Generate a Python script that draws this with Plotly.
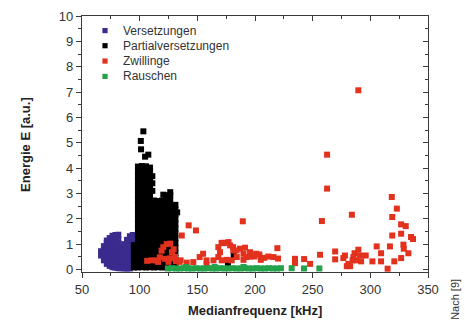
import plotly.graph_objects as go

# ---- series data: Medianfrequenz [kHz] vs. Energie E [a.u.] ----
versetzungen_x = (
    [66.5] * 2 + [69] * 5 + [71.5] * 8 + [74] * 9 + [76.5] * 10 + [79] * 10
    + [81.5] * 10 + [84] * 7 + [86.5] * 8 + [89] * 9 + [91.5] * 10 + [94] * 3
)
versetzungen_y = [
    0.55, 0.72,
    0.36, 0.50, 0.64, 0.78, 0.92,
    0.22, 0.36, 0.50, 0.65, 0.79, 0.93, 1.05, 1.14,
    0.14, 0.28, 0.42, 0.57, 0.71, 0.85, 0.99, 1.12, 1.24,
    0.09, 0.23, 0.38, 0.52, 0.66, 0.80, 0.94, 1.08, 1.21, 1.33,
    0.07, 0.21, 0.35, 0.50, 0.64, 0.78, 0.92, 1.06, 1.20, 1.36,
    0.05, 0.19, 0.34, 0.48, 0.62, 0.76, 0.90, 1.04, 1.19, 1.37,
    0.05, 0.19, 0.33, 0.47, 0.61, 0.75, 0.88,
    0.04, 0.18, 0.32, 0.46, 0.60, 0.74, 0.88, 1.00,
    0.04, 0.18, 0.32, 0.46, 0.60, 0.74, 0.88, 1.02, 1.17,
    0.04, 0.18, 0.32, 0.46, 0.60, 0.74, 0.88, 1.02, 1.16, 1.31,
    1.10, 1.25, 1.36,
]

partial_x = (
    [95] * 6 + [98.5] * 22 + [102] * 22 + [101.2, 101.0, 103.2]
    + [105.5] * 22 + [104.7, 107.5] + [109] * 22 + [112.5] * 15
    + [111.0, 111.0, 111.0] + [116] * 15 + [119.5] * 15 + [120.5]
    + [123] * 16 + [126.5] * 17 + [131] * 14 + [132.5, 181.5, 176.5]
)
partial_y = [
    0.08, 0.26, 0.44, 0.62, 0.80, 0.96,
    0.08, 0.27, 0.46, 0.65, 0.84, 1.03, 1.22, 1.41, 1.60, 1.79, 1.98,
    2.17, 2.36, 2.55, 2.74, 2.93, 3.12, 3.31, 3.50, 3.69, 3.88, 4.06,
    0.09, 0.28, 0.47, 0.66, 0.85, 1.04, 1.23, 1.42, 1.61, 1.80, 1.99,
    2.18, 2.37, 2.56, 2.75, 2.94, 3.13, 3.32, 3.51, 3.70, 3.89, 4.08,
    4.74, 5.07, 5.45,
    0.08, 0.27, 0.46, 0.65, 0.84, 1.03, 1.22, 1.41, 1.60, 1.79, 1.98,
    2.17, 2.36, 2.55, 2.74, 2.93, 3.12, 3.31, 3.50, 3.69, 3.88, 4.07,
    4.45, 4.53,
    0.09, 0.28, 0.47, 0.66, 0.85, 1.04, 1.23, 1.42, 1.61, 1.80, 1.99,
    2.18, 2.37, 2.56, 2.75, 2.94, 3.13, 3.32, 3.51, 3.70, 3.88, 4.02,
    0.08, 0.27, 0.46, 0.65, 0.84, 1.03, 1.22, 1.41, 1.60, 1.79, 1.98,
    2.17, 2.36, 2.55, 2.72,
    3.10, 3.40, 3.68,
    0.09, 0.28, 0.47, 0.66, 0.85, 1.04, 1.23, 1.42, 1.61, 1.80, 1.99,
    2.18, 2.37, 2.56, 2.70,
    0.08, 0.27, 0.46, 0.65, 0.84, 1.03, 1.22, 1.41, 1.60, 1.79, 1.98,
    2.17, 2.36, 2.55, 2.72,
    2.95,
    0.09, 0.28, 0.47, 0.66, 0.85, 1.04, 1.23, 1.42, 1.61, 1.80, 1.99,
    2.18, 2.37, 2.56, 2.75, 2.93,
    0.08, 0.27, 0.46, 0.65, 0.84, 1.03, 1.22, 1.41, 1.60, 1.79, 1.98,
    2.17, 2.36, 2.55, 2.74, 2.93, 3.05,
    0.09, 0.28, 0.47, 0.66, 0.85, 1.04, 1.23, 1.42, 1.61, 1.80, 1.99,
    2.18, 2.37, 2.55,
    2.25, 0.56, 0.22,
]

zwillinge_x = [
    106.5, 110.5, 114.5, 116.0, 117.5, 119.0, 120.5, 122.0, 123.5, 125.0,
    126.5, 126.5, 128.0, 129.5, 130.7, 131.5, 134.5, 136.5, 142.5, 148.8,
    135.5, 140.8, 146.5, 152.0, 155.0, 158.0, 164.0, 158.0,
    168.2, 169.7, 168.2, 171.2, 171.0, 174.0, 177.0, 178.4, 181.2, 184.2,
    179.8, 175.5, 187.0, 190.0, 192.8, 195.7, 201.0, 172.6, 181.0, 184.0,
    190.0, 191.4, 195.7, 199.4, 203.8, 205.0, 208.0, 211.6, 216.0, 219.4,
    220.0, 234.7, 234.7, 242.6, 247.8, 256.4, 189.4,
    258.0, 262.5, 262.5, 289.6, 284.0, 269.5, 269.5, 276.6, 278.0, 279.6,
    282.5, 281.0, 284.6, 285.3, 286.3, 288.0, 289.6, 291.0, 292.0, 296.0,
    301.8, 305.5, 309.3, 309.3, 315.0, 317.0, 320.8, 318.6, 323.0, 319.0,
    326.7, 330.7, 319.0, 326.7, 335.3, 337.0, 328.7, 329.0, 333.0, 326.7,
]
zwillinge_y = [
    0.34, 0.36, 0.36, 0.30, 0.48, 0.74, 0.88, 0.42, 1.00, 0.30,
    0.44, 1.02, 0.68, 0.80, 0.50, 0.33, 0.30, 1.34, 1.74, 1.54,
    0.36, 0.27, 0.29, 0.49, 0.62, 0.36, 0.36, 0.18,
    0.88, 0.68, 0.49, 0.36, 1.05, 1.05, 1.08, 0.95, 0.75, 0.49,
    0.36, 0.38, 0.82, 0.62, 0.49, 0.68, 0.62, 1.04, 0.88, 0.75,
    0.38, 0.86, 0.51, 0.51, 0.59, 0.38, 0.46, 0.51, 0.49, 0.84,
    0.43, 0.42, 0.25, 0.41, 0.22, 0.58, 1.90,
    1.91, 3.19, 4.53, 7.07, 2.16, 0.71, 0.40, 0.45, 0.55, 0.13,
    0.13, 0.22, 0.36, 0.49, 0.64, 0.36, 0.78, 0.55, 0.32, 0.55,
    0.32, 0.91, 0.64, 0.32, 0.03, 0.91, 0.32, 2.86, 2.40, 2.07,
    1.78, 1.71, 1.34, 1.41, 1.28, 1.20, 0.98, 0.82, 0.64, 0.45,
]

rauschen_x = [
    124.5, 128.0, 131.5, 135.0, 138.5, 142.0, 145.5, 149.0, 152.5, 156.0,
    159.5, 163.0, 166.5, 170.0, 173.5, 177.0, 180.5, 184.0, 187.5, 191.0,
    194.5, 198.0, 201.5, 205.0, 208.5, 212.0, 215.5, 219.0, 222.5,
    140.0, 165.0, 190.0, 231.8, 242.5, 255.8,
]
rauschen_y = [
    0.04, 0.05, 0.04, 0.04, 0.05, 0.04, 0.04, 0.05, 0.04, 0.04,
    0.05, 0.04, 0.04, 0.05, 0.04, 0.04, 0.05, 0.04, 0.04, 0.05,
    0.04, 0.04, 0.05, 0.04, 0.04, 0.05, 0.04, 0.04, 0.05,
    0.10, 0.10, 0.10, 0.05, 0.04, 0.04,
]

series_names = ["Versetzungen", "Partialversetzungen", "Zwillinge", "Rauschen"]
series_colors = ["#3b2b8e", "#000000", "#e2311d", "#23a24a"]
series_data = [
    (versetzungen_x, versetzungen_y),
    (partial_x, partial_y),
    (zwillinge_x, zwillinge_y),
    (rauschen_x, rauschen_y),
]

x_range = [50, 350]
y_range = [-0.1, 10]

fig = go.Figure()
for name, color, (xs, ys) in zip(series_names, series_colors, series_data):
    fig.add_trace(go.Scatter(
        x=xs, y=ys, mode="markers", name=name, showlegend=False,
        marker=dict(symbol="square", size=6, color=color, line=dict(width=0)),
    ))

# empty trace that carries the mirrored top/right axes
fig.add_trace(go.Scatter(x=[], y=[], xaxis="x2", yaxis="y2", showlegend=False))

axis_col = "#3a3a3a"
font_family = "Liberation Sans, Arial, sans-serif"
tick_font = dict(family=font_family, size=13, color="#333333")
title_font = dict(family=font_family, size=13, color="#222222")

common = dict(showline=True, linecolor=axis_col, linewidth=1.4, showgrid=False,
              zeroline=False, automargin=False, tickwidth=1.2, tickcolor=axis_col,
              ticklen=5)

fig.update_layout(
    width=465, height=320,
    margin=dict(l=82, r=37, t=16, b=48),
    paper_bgcolor="white", plot_bgcolor="white",
    xaxis=dict(
        range=x_range, tick0=50, dtick=50, ticks="outside", tickfont=tick_font,
        minor=dict(dtick=25, ticks="outside", ticklen=3, tickcolor=axis_col),
        **common,
    ),
    yaxis=dict(
        range=y_range, tick0=0, dtick=1, ticks="outside", tickfont=tick_font,
        minor=dict(dtick=0.5, ticks="outside", ticklen=3, tickcolor=axis_col),
        **common,
    ),
    xaxis2=dict(
        overlaying="x", side="top", anchor="y", range=x_range, tick0=50, dtick=50,
        ticks="inside", showticklabels=False,
        minor=dict(dtick=25, ticks="inside", ticklen=3, tickcolor=axis_col),
        **common,
    ),
    yaxis2=dict(
        overlaying="y", side="right", anchor="x", range=y_range, tick0=0, dtick=1,
        ticks="inside", showticklabels=False,
        minor=dict(dtick=0.5, ticks="inside", ticklen=3, tickcolor=axis_col),
        **common,
    ),
)

# axis titles
fig.add_annotation(xref="paper", yref="paper", x=0.5, y=-0.152,
                   text="<b>Medianfrequenz [kHz]</b>", showarrow=False,
                   xanchor="center", yanchor="middle", font=title_font)
fig.add_annotation(xref="paper", yref="paper", x=-0.165, y=0.5,
                   text="<b>Energie E [a.u.]</b>", textangle=-90, showarrow=False,
                   xanchor="center", yanchor="middle", font=title_font)

# legend block drawn inside the plot area (paper coordinates)
legend_x = 0.0665
legend_rows = [0.943, 0.884, 0.824, 0.764]
half_w, half_h = 2.6 / 346, 2.6 / 256
for name, color, yy in zip(series_names, series_colors, legend_rows):
    fig.add_shape(type="rect", xref="paper", yref="paper",
                  x0=legend_x - half_w, x1=legend_x + half_w,
                  y0=yy - half_h, y1=yy + half_h,
                  fillcolor=color, line=dict(width=0))
    fig.add_annotation(xref="paper", yref="paper", x=legend_x + 0.047, y=yy,
                       text=name, showarrow=False, xanchor="left", yanchor="middle",
                       font=dict(family=font_family, size=12, color="#333333"))

fig.add_annotation(xref="paper", yref="paper", x=1.078, y=-0.105,
                   text="Nach [9]", textangle=-90, showarrow=False,
                   xanchor="center", yanchor="middle",
                   font=dict(family=font_family, size=11, color="#333333"))

fig.write_html("out.html")
